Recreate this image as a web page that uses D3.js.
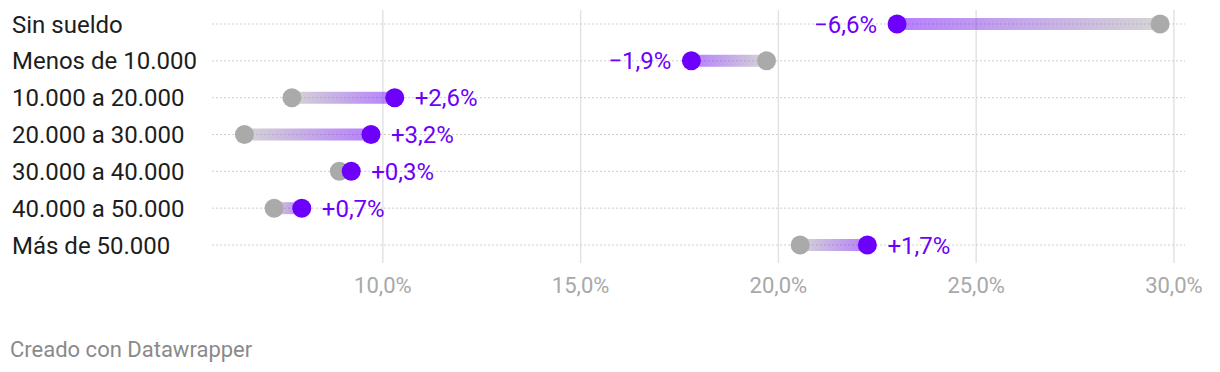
<!DOCTYPE html>
<html>
<head>
<meta charset="utf-8">
<script src="https://cdn.jsdelivr.net/npm/d3@7"></script>
<style>
  body { margin: 0; background: #fff; font-family: Roboto, "Noto Sans", sans-serif; }
</style>
</head>
<body>
<svg id="chart" width="1220" height="372"></svg>
<script>
const categories = ["Sin sueldo", "Menos de 10.000", "10.000 a 20.000", "20.000 a 30.000", "30.000 a 40.000", "40.000 a 50.000", "Más de 50.000"];
const before = [29.65, 19.7, 7.7, 6.5, 8.9, 7.25, 20.55];
const after = [23.0, 17.8, 10.3, 9.7, 9.2, 7.95, 22.25];
const diffLabels = ["−6,6%", "−1,9%", "+2,6%", "+3,2%", "+0,3%", "+0,7%", "+1,7%"];
const ticks = [10, 15, 20, 25, 30];

const grey = "#aaaaaa", purple = "#6c00fa";
const svg = d3.select("#chart");

const x = d3.scaleLinear().domain([5.68, 30.28]).range([212, 1185]);
const y = d3.scalePoint().domain(categories).range([24, 245]);

const defs = svg.append("defs");

// vertical grid
svg.append("g").selectAll("line").data(ticks).join("line")
  .attr("x1", d => x(d)).attr("x2", d => x(d))
  .attr("y1", 10).attr("y2", 263)
  .attr("stroke", "#e3e3e3").attr("stroke-width", 1.5);

// tick labels
svg.append("g").selectAll("text").data(ticks).join("text")
  .attr("x", d => x(d)).attr("y", 293)
  .attr("text-anchor", "middle")
  .attr("font-size", 22).attr("fill", "#a8a8a8")
  .text(d => d3.format(".1f")(d).replace(".", ",") + "%");

// row dotted lines
svg.append("g").selectAll("line").data(categories).join("line")
  .attr("x1", 212).attr("x2", 1185)
  .attr("y1", d => y(d)).attr("y2", d => y(d))
  .attr("stroke", "#cfcfcf").attr("stroke-width", 1)
  .attr("stroke-dasharray", "2,2");

// row labels
svg.append("g").selectAll("text").data(categories).join("text")
  .attr("x", 12).attr("y", d => y(d) + 8.5)
  .attr("font-size", 24).attr("fill", "#1d1d1d")
  .text(d => d);

const rows = categories.map((c, i) => ({ c, i, b: before[i], a: after[i], lab: diffLabels[i] }));

rows.forEach(r => {
  const g = defs.append("linearGradient")
    .attr("id", "grad" + r.i)
    .attr("gradientUnits", "userSpaceOnUse")
    .attr("x1", x(r.b)).attr("x2", x(r.a)).attr("y1", 0).attr("y2", 0);
  g.append("stop").attr("offset", 0).attr("stop-color", grey).attr("stop-opacity", 0.5);
  g.append("stop").attr("offset", 1).attr("stop-color", purple).attr("stop-opacity", 0.5);
});

const marks = svg.append("g");
marks.selectAll("line").data(rows).join("line")
  .attr("x1", d => x(d.b)).attr("x2", d => x(d.a))
  .attr("y1", d => y(d.c)).attr("y2", d => y(d.c))
  .attr("stroke", d => "url(#grad" + d.i + ")")
  .attr("stroke-width", 12);

marks.selectAll("circle.b").data(rows).join("circle").attr("class", "b")
  .attr("cx", d => x(d.b)).attr("cy", d => y(d.c)).attr("r", 9.5)
  .attr("fill", grey);

marks.selectAll("circle.a").data(rows).join("circle").attr("class", "a")
  .attr("cx", d => x(d.a)).attr("cy", d => y(d.c)).attr("r", 9.5)
  .attr("fill", purple);

marks.selectAll("text").data(rows).join("text")
  .attr("x", d => d.a > d.b ? x(d.a) + 20 : x(d.a) - 20)
  .attr("y", d => y(d.c) + 8.5)
  .attr("text-anchor", d => d.a > d.b ? "start" : "end")
  .attr("font-size", 24).attr("fill", purple)
  .text(d => d.lab);

svg.append("text")
  .attr("x", 10).attr("y", 357)
  .attr("font-size", 22).attr("fill", "#8a8a8a")
  .text("Creado con Datawrapper");
</script>
</body>
</html>
